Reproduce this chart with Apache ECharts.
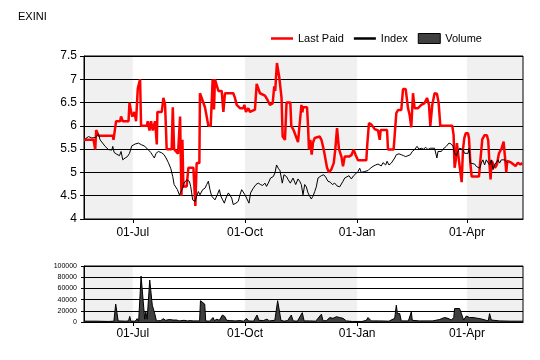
<!DOCTYPE html>
<html><head><meta charset="utf-8">
<script src="https://cdn.jsdelivr.net/npm/echarts@6/dist/echarts.min.js"></script>
<style>html,body{margin:0;padding:0;background:#fff}#c{width:540px;height:360px}</style>
</head><body><div id="c"></div>
<script>
// x values are days counted from 01-Jul (2012); negative = before 01-Jul
const chartTitle = 'EXINI';
const seriesNames = ['Last Paid', 'Index', 'Volume'];
const xRangeDays = [-40, 320];
const tickDates = [[2012, 6, 1], [2012, 9, 1], [2013, 0, 1], [2013, 3, 1]];
const monthNames = ['Jan','Feb','Mar','Apr','May','Jun','Jul','Aug','Sep','Oct','Nov','Dec'];
const shadedBands = [[-40, 0], [92, 184], [274, 320]];

const lastPaid = [[-40,5.7],[-32.2,5.7],[-30.8,5.49],[-30,5.91],[-28.1,5.79],[-16.4,5.79],[-15.8,5.7],[-13.7,6.1],[-10.4,6.1],[-9.6,6.2],[-8.2,6.1],[-3.5,6.1],[-2.7,6.5],[-1.4,6.3],[-0.3,6.2],[1.4,6.3],[2.7,6.1],[4.1,6.8],[6.0,7.0],[6.8,6.0],[11.5,6.0],[12.3,6.1],[13.7,5.9],[15.0,6.1],[16.4,5.9],[18.3,6.1],[19.7,5.6],[20.2,6.3],[23.8,6.3],[25.1,6.6],[26.5,6.45],[27.8,5.5],[31.9,5.5],[32.8,6.4],[33.9,5.5],[37.1,5.4],[38.8,6.2],[39.9,4.5],[40.7,5.7],[41.5,4.7],[44.2,4.7],[45.6,5.1],[49.7,5.1],[50.5,4.7],[51.3,4.28],[52.4,5.2],[54.6,5.2],[55.1,6.7],[59.2,6.4],[62.0,6.0],[63.9,6.0],[65.5,7.0],[66.6,6.35],[67.4,7.0],[68.8,7.0],[70.2,6.75],[72.9,6.75],[74.3,6.3],[75.6,6.7],[82.4,6.7],[83.8,6.6],[85.2,6.45],[86.5,6.45],[87.9,6.38],[90.6,6.38],[91.5,6.45],[92.8,6.3],[94.7,6.38],[96.1,6.3],[100.2,6.35],[101.6,6.9],[102.9,6.87],[104.3,6.7],[108.4,6.65],[110.6,6.55],[112.5,6.45],[114.7,6.48],[116,6.85],[116.8,6.75],[118.2,7.35],[120.1,7.05],[122,6.6],[122.9,5.77],[124.8,5.7],[126.1,6.5],[129.2,6.5],[130,6.0],[132,5.9],[135.5,5.65],[138.3,6.45],[139.1,6.29],[139.6,6.4],[142.9,6.4],[143.7,6.0],[144.5,5.49],[145.6,5.7],[146.7,5.38],[147.8,5.64],[149.2,5.74],[153.3,5.77],[154.7,5.7],[156.6,5.49],[158.2,5.49],[159.3,5.1],[160.9,5.0],[162.9,5.07],[164.8,5.2],[166.1,5.5],[167.5,5.95],[169.1,5.5],[171.1,5.34],[172.4,5.13],[173.8,5.34],[177.3,5.34],[179.3,5.37],[181.1,5.49],[182.8,5.37],[184.7,5.26],[191.5,5.26],[192.3,5.6],[193.7,6.06],[195.6,6.03],[198.4,5.93],[201.1,5.9],[202.5,5.7],[203.3,5.91],[208.5,5.91],[209.3,5.49],[213.9,5.49],[216.1,6.27],[217.5,6.34],[220.2,6.34],[221.6,6.79],[223.8,6.79],[225.7,6.38],[227,6.24],[228.4,5.97],[229.8,6.7],[230.3,6.74],[231.1,6.38],[233.9,6.38],[236.6,6.45],[239.3,6.49],[241.3,6.6],[242.9,6.45],[244,6.0],[245.6,6.45],[247.5,6.7],[249.4,6.69],[250.8,6.5],[252.2,6.0],[262,6.0],[263.1,5.8],[263.9,5.1],[264.8,5.25],[265.8,5.63],[267.5,5.25],[268.6,5.25],[269.7,4.79],[270.8,5.5],[271.9,5.74],[273,5.84],[274.9,5.84],[275.7,5.74],[276.8,5.21],[277.9,4.91],[283.9,4.91],[285,5.25],[286.6,5.71],[288.5,5.8],[290.4,5.8],[291.5,5.68],[292.6,5.14],[293.4,4.85],[294.3,5.25],[297,5.1],[298.6,5.17],[300.3,5.41],[302.5,5.52],[304.1,5.66],[305.2,5.34],[306.3,5.0],[307.1,5.25],[310.4,5.21],[313.9,5.14],[315.8,5.21],[317.8,5.17],[319.4,5.2]];

const indexLine = [[-39,5.72],[-36.3,5.77],[-33.6,5.74],[-30.8,5.75],[-28.1,5.82],[-26.8,5.7],[-22.7,5.56],[-19.9,5.49],[-17.2,5.48],[-16.4,5.56],[-15.3,5.43],[-13.1,5.39],[-10.9,5.36],[-9.6,5.45],[-8.2,5.27],[-6.3,5.31],[-4.4,5.34],[-2.7,5.41],[-0.8,5.57],[1.9,5.61],[4.6,5.63],[6.0,5.66],[7.4,5.59],[9.3,5.57],[11.5,5.52],[12.8,5.54],[14.7,5.43],[16.4,5.36],[17.7,5.31],[19.1,5.41],[21.0,5.45],[23.8,5.42],[25.7,5.38],[27.3,5.31],[29.2,5.21],[31.1,5.09],[32.8,4.91],[33.9,4.74],[35.2,4.7],[36.6,4.63],[38.2,4.52],[39.3,4.49],[41.0,4.66],[42.0,4.77],[44.2,4.84],[46.4,4.81],[47.5,4.7],[48.3,4.56],[49.1,4.41],[51.1,4.38],[52.4,4.49],[53.8,4.59],[55.1,4.52],[57.3,4.63],[59.2,4.66],[60.6,4.74],[62.0,4.81],[63.3,4.63],[64.7,4.49],[66.1,4.52],[67.4,4.41],[69.3,4.52],[71.0,4.63],[72.1,4.5],[73.7,4.41],[75.1,4.34],[76.4,4.45],[78.4,4.56],[79.7,4.59],[81.1,4.45],[82.4,4.31],[84.6,4.34],[86.5,4.38],[87.9,4.52],[89.3,4.63],[90.6,4.6],[92,4.52],[93.4,4.5],[95.3,4.34],[96.6,4.56],[98.8,4.66],[101,4.74],[102.9,4.77],[104.8,4.74],[106.5,4.72],[108.4,4.77],[109.7,4.7],[111.1,4.77],[113,4.88],[115.2,4.91],[116.6,4.99],[117.9,5.16],[119.3,5.09],[120.7,5.04],[122.6,4.77],[124,4.95],[126.1,4.91],[127.5,4.84],[129.2,4.77],[131.4,4.88],[133.6,4.74],[135.5,4.86],[136.9,4.81],[138.2,4.74],[139.6,4.52],[141,4.74],[142.3,4.69],[143.7,4.56],[145.1,4.49],[146.4,4.43],[147.8,4.49],[149.2,4.59],[150.5,4.69],[151.9,4.88],[153.3,4.85],[154.6,4.93],[156.6,4.95],[158.2,4.9],[160.1,4.81],[162,4.79],[163.7,4.74],[165.6,4.77],[167.5,4.71],[169.7,4.69],[171,4.66],[172.4,4.81],[173.8,4.88],[175.1,4.91],[177.3,4.93],[179.2,4.86],[181.1,4.93],[182.8,4.97],[184.7,5.02],[186.1,5.09],[187.4,5.0],[190.2,5.02],[192.9,5.04],[194.8,5.09],[197,5.13],[199.2,5.16],[201.1,5.18],[203.8,5.14],[205.2,5.21],[207.4,5.16],[208.5,5.24],[210.1,5.16],[212,5.2],[213.4,5.24],[214.8,5.31],[216.1,5.38],[218.3,5.4],[220.2,5.38],[222.1,5.36],[223.8,5.34],[225.7,5.36],[227.6,5.38],[229.2,5.45],[231.1,5.49],[233.1,5.56],[234.7,5.5],[236.6,5.52],[238.5,5.5],[240.2,5.54],[242.1,5.49],[244,5.52],[245.6,5.5],[247.5,5.52],[248.9,5.49],[249.4,5.31],[250.3,5.45],[251.6,5.49],[253,5.45],[254.4,5.5],[255.7,5.49],[257.1,5.56],[259.3,5.63],[261.2,5.61],[262.6,5.56],[263.9,5.41],[265.3,5.36],[266.7,5.45],[268,5.52],[269.4,5.56],[270.8,5.49],[272.1,5.41],[273.5,5.45],[274.9,5.41],[275.7,5.52],[276.8,5.2],[278.4,5.16],[280.3,5.18],[281.7,5.13],[283.1,5.16],[284.4,5.09],[285.8,5.2],[287.1,5.27],[288.5,5.16],[289.9,5.27],[291.3,5.29],[292.6,5.16],[294,5.27],[295.4,5.06],[296.7,5.16],[298.1,5.2],[299.5,5.27],[300.8,5.2],[302.2,5.27],[303.6,5.31],[304.9,5.27],[306.3,5.27],[307.7,5.2]];

const volume = [[-40,1500],[-30,1500],[-20,1000],[-15.5,1500],[-14,32000],[-12,2000],[-6,1500],[-3.5,2000],[-2.5,10000],[-1.5,1500],[2,1500],[3.6,6000],[4.8,1500],[5.2,3000],[6.8,82000],[9.8,5000],[10.7,18000],[11.8,5000],[13.9,75000],[16,30000],[18,15000],[19.4,2000],[23,2500],[25,6000],[27,3000],[30,4500],[33,3500],[36,3500],[38,2000],[42,3000],[45,2000],[47,2500],[50,2000],[54.8,2000],[55.5,38000],[59,32000],[59.8,2000],[63,1500],[65.8,8000],[67,2500],[69,5000],[71,3000],[73.5,12500],[75.4,10000],[77,3000],[80,2500],[84,2000],[88,2500],[91,1500],[93.2,6500],[95,2000],[99,1500],[101.9,12500],[103.5,3000],[107,2500],[110,5000],[112,2000],[116.5,3000],[118.8,38000],[121.5,3000],[124,1500],[127,2500],[130,12500],[131.5,2000],[135,1500],[139,16700],[140.5,2000],[145,2000],[150,1500],[154.7,14000],[156,2000],[159,2500],[161.5,8000],[164.2,6500],[167,9500],[169.7,8000],[172.4,6500],[175.1,2000],[180,1000],[188,1000],[191.5,3000],[192.9,8000],[195.6,2000],[202.5,2000],[210,1500],[214.8,6500],[216.1,30000],[217,15000],[218.9,15000],[220.2,2000],[226,2000],[228.4,18000],[229.2,3000],[235,2000],[246.2,2000],[251.6,4500],[255.7,8000],[258.5,6500],[261.2,3500],[263.2,8000],[263.9,24000],[268,24000],[269.9,12500],[271.3,3500],[273.5,10700],[276.2,8000],[279,8000],[285.8,5500],[286.6,2000],[291.5,2000],[292.6,15000],[294,3500],[300.8,2000],[310,1500],[320,1500]];

const DAY = 86400000;
const t0 = Date.UTC(2012, 6, 1);
const tickDays = tickDates.map(a => Math.round((Date.UTC(a[0], a[1], a[2]) - t0) / DAY));
const fmt = v => { const d = new Date(t0 + Math.round(v) * DAY); return String(d.getUTCDate()).padStart(2, '0') + '-' + monthNames[d.getUTCMonth()]; };
const FONT = '"Liberation Sans", Arial, sans-serif';
const LINE_ICON = 'path://M0,0 L44,0 L44,5 L0,5 Z';

function xAxisCfg(gi, margin) {
  return {
    type: 'value', gridIndex: gi, min: xRangeDays[0], max: xRangeDays[1], z: 2,
    axisLine: { show: true, onZero: false, lineStyle: { color: '#000', width: 1 } },
    axisTick: { show: true, customValues: tickDays, length: 4, lineStyle: { color: '#000' } },
    axisLabel: { customValues: tickDays, formatter: fmt, color: '#000', fontSize: 12, fontFamily: FONT, margin: margin },
    splitLine: { show: false }, minorTick: { show: false }
  };
}
function bandSeries(xi, yi) {
  return {
    type: 'line', xAxisIndex: xi, yAxisIndex: yi, data: [], z: -5, silent: true,
    markArea: { silent: true, z: -5, itemStyle: { color: '#f0f0f0', borderWidth: 0 },
      data: shadedBands.map(b => [{ xAxis: b[0] }, { xAxis: b[1] }]) }
  };
}
function yAxisCfg(gi, min, max, interval, fontSize, tickLen, fmtFn) {
  const cfg = { type: 'value', gridIndex: gi, min: min, max: max, interval: interval, z: 2,
    axisLine: { show: true, onZero: false, lineStyle: { color: '#000' } },
    axisTick: { show: true, length: tickLen, lineStyle: { color: '#000' } },
    axisLabel: { color: '#000', fontSize: fontSize, fontFamily: FONT, margin: 7 },
    splitLine: { show: true, lineStyle: { color: '#000', width: 1 } } };
  if (fmtFn) cfg.axisLabel.formatter = fmtFn;
  return cfg;
}

const chart = echarts.init(document.getElementById('c'), null, { renderer: 'canvas' });
chart.setOption({
  animation: false,
  textStyle: { fontFamily: FONT },
  title: { text: chartTitle, left: 13, top: 6, textStyle: { fontSize: 11, fontWeight: 'normal', color: '#000', fontFamily: FONT } },
  legend: {
    left: 266, top: 28, itemWidth: 22, itemHeight: 10, itemGap: 10,
    textStyle: { fontSize: 11, color: '#000', fontFamily: FONT },
    data: [
      { name: seriesNames[0], icon: LINE_ICON, itemStyle: { color: '#ff0000' } },
      { name: seriesNames[1], icon: LINE_ICON, itemStyle: { color: '#000' } },
      { name: seriesNames[2], icon: 'rect', itemStyle: { color: '#404040', borderColor: '#000', borderWidth: 1 } }
    ]
  },
  grid: [
    { left: 84, right: 17, top: 56, bottom: 141, show: true, borderColor: '#000', borderWidth: 1, containLabel: false },
    { left: 84, right: 17, top: 266, bottom: 38, show: true, borderColor: '#000', borderWidth: 1, containLabel: false }
  ],
  xAxis: [xAxisCfg(0, 8), xAxisCfg(1, 6)],
  yAxis: [
    yAxisCfg(0, 4, 7.5, 0.5, 12, 4, null),
    yAxisCfg(1, 0, 100000, 20000, 7, 3, v => String(v))
  ],
  series: [
    bandSeries(0, 0),
    bandSeries(1, 1),
    { name: seriesNames[0], type: 'line', xAxisIndex: 0, yAxisIndex: 0, data: lastPaid, symbol: 'none', z: 3,
      color: '#ff0000', lineStyle: { color: '#ff0000', width: 2.5 } },
    { name: seriesNames[1], type: 'line', xAxisIndex: 0, yAxisIndex: 0, data: indexLine, symbol: 'none', z: 4,
      color: '#000', lineStyle: { color: '#000', width: 1 } },
    { name: seriesNames[2], type: 'line', xAxisIndex: 1, yAxisIndex: 1, data: volume, symbol: 'none', z: 3,
      color: '#404040', lineStyle: { color: '#000', width: 1 }, areaStyle: { color: '#404040', opacity: 1 } }
  ]
});
</script></body></html>
